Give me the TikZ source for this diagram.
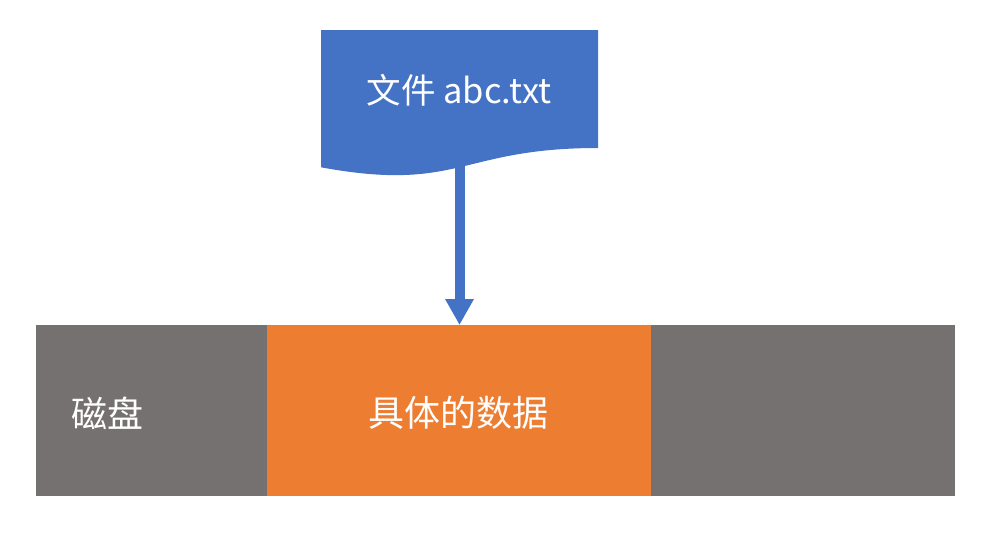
\documentclass[tikz,border=0pt]{standalone}
\usepackage{fontspec}
\setmainfont{Noto Sans CJK SC}
\usetikzlibrary{arrows.meta}
\definecolor{docblue}{HTML}{4472C4}
\definecolor{diskgray}{HTML}{767171}
\definecolor{dataorange}{HTML}{ED7D31}
\tikzset{
  seg/.style={inner sep=0pt, outer sep=0pt, anchor=north west, minimum height=171pt},
  lbl/.style={text=white, font=\fontsize{36}{40}\selectfont, inner sep=0pt},
  doclbl/.style={lbl, font=\fontsize{34.5}{40}\selectfont},
  flow/.style={draw=docblue, line width=10pt, -{Triangle[width=27pt,length=26pt]}}
}
\begin{document}
\begin{tikzpicture}[x=1pt,y=1pt]
\useasboundingbox (0,0) rectangle (993,-557);
% disk bar
\node[seg, fill=diskgray, minimum width=231pt] (diskL) at (36,-325) {};
\node[seg, fill=dataorange, minimum width=384pt] (data) at (267,-325) {};
\node[seg, fill=diskgray, minimum width=304pt] (diskR) at (651,-325) {};
\node[lbl] (disklbl) at (107,-413) {磁盘};
\node[lbl] (datalbl) at (458,-413) {具体的数据};
% document shape
\fill[docblue] (321,-30) -- (598,-30) -- (598,-148)
  .. controls (459.5,-148) and (459.5,-192.8) .. (321,-167.3) -- cycle;
\node[doclbl] (doc) at (459,-90) {文件 abc.txt};
\coordinate (docbottom) at (459.5,-163);
\draw[flow] (docbottom) -- (data.north -| docbottom);
\end{tikzpicture}
\end{document}
